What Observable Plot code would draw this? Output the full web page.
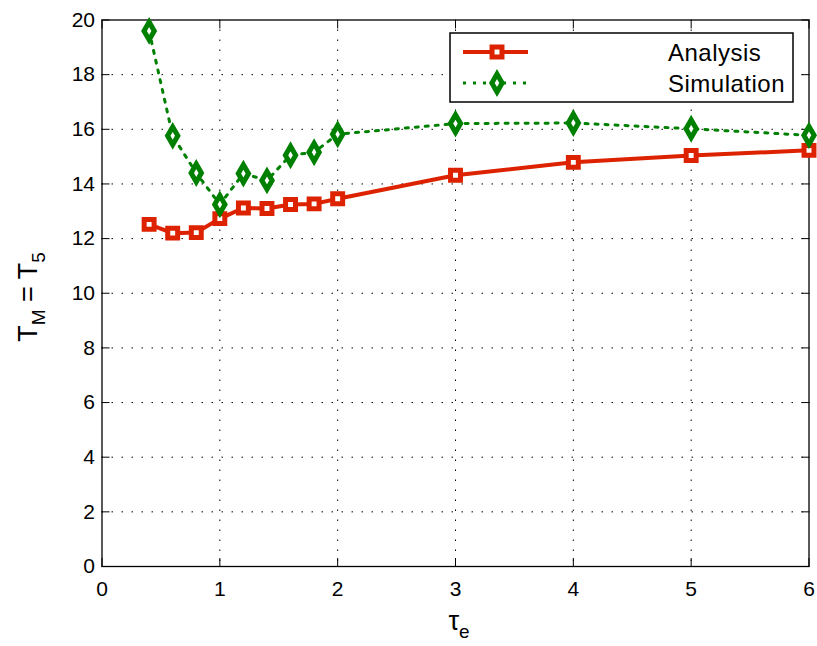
<!DOCTYPE html>
<html>
<head>
<meta charset="utf-8">
<script src="https://cdn.jsdelivr.net/npm/d3@7"></script>
<script src="https://cdn.jsdelivr.net/npm/@observablehq/plot@0.6"></script>
<style>
  html, body { margin: 0; padding: 0; background: white; }
  #chart { width: 817px; height: 646px; }
</style>
</head>
<body>
<div id="chart"></div>
<script>
// ---- data ----
const taus = [0.4, 0.6, 0.8, 1.0, 1.2, 1.4, 1.6, 1.8, 2, 3, 4, 5, 6];
const analysis = [12.52, 12.2, 12.22, 12.73, 13.12, 13.1, 13.25, 13.27, 13.46, 14.32, 14.79, 15.04, 15.23];
const simulation = [19.6, 15.76, 14.4, 13.25, 14.38, 14.13, 15.05, 15.16, 15.82, 16.21, 16.23, 16.02, 15.78];
const xTicks = [0, 1, 2, 3, 4, 5, 6];
const yTicks = [0, 2, 4, 6, 8, 10, 12, 14, 16, 18, 20];
const seriesNames = ["Analysis", "Simulation"];

const red = "#dd2200";
const green = "#008000";
const font = "'Liberation Sans', Arial, Helvetica, sans-serif";

const rows = taus.map((t, i) => ({t, a: analysis[i], s: simulation[i]}));
const gridDash = "1.5,8.5";
const fmt = d3.format("d");

const svg = Plot.plot({
  width: 817,
  height: 646,
  marginLeft: 101.5,
  marginRight: 8.5,
  marginTop: 19.5,
  marginBottom: 80,
  x: {domain: [0, 6], label: null},
  y: {domain: [0, 20], label: null},
  style: {fontFamily: font, fontSize: "21px", background: "white", color: "black", overflow: "visible"},
  marks: [
    Plot.gridX(xTicks.slice(1, -1), {stroke: "black", strokeOpacity: 1, strokeWidth: 1, strokeDasharray: gridDash}),
    Plot.gridY(yTicks.slice(1, -1), {stroke: "black", strokeOpacity: 1, strokeWidth: 1, strokeDasharray: gridDash}),
    Plot.frame({stroke: "black", strokeWidth: 1.3}),
    // inward ticks on all four sides
    Plot.axisX(xTicks, {anchor: "bottom", tickSize: -8, fill: "none", label: null}),
    Plot.axisX(xTicks, {anchor: "top", tickSize: -8, fill: "none", label: null}),
    Plot.axisY(yTicks, {anchor: "left", tickSize: -8, fill: "none", label: null}),
    Plot.axisY(yTicks, {anchor: "right", tickSize: -8, fill: "none", label: null}),
    // tick labels
    Plot.axisX(xTicks, {anchor: "bottom", tickSize: 0, tickPadding: 15, fontSize: 21, tickFormat: fmt, label: null}),
    Plot.axisY(yTicks, {anchor: "left", tickSize: 0, tickPadding: 7, fontSize: 21, tickFormat: fmt, label: null}),
    // series
    Plot.line(rows, {x: "t", y: "a", stroke: red, strokeWidth: 4}),
    Plot.line(rows, {x: "t", y: "s", stroke: green, strokeWidth: 3, strokeDasharray: "3,7"}),
    Plot.dot(rows, {x: "t", y: "a", symbol: "square", r: 5.6, stroke: red, strokeWidth: 5, fill: "white"}),
    Plot.dot(rows, {x: "t", y: "s", symbol: "diamond", r: 5.4, stroke: green, strokeWidth: 5, fill: "white"})
  ]
});

document.getElementById("chart").appendChild(svg);

const s = d3.select(svg);

// y-axis label: T_M = T_5
const yl = s.append("text")
  .attr("transform", "translate(37,297) rotate(-90)")
  .attr("text-anchor", "middle")
  .attr("font-family", font)
  .attr("font-size", 27)
  .attr("fill", "black");
yl.append("tspan").text("T");
yl.append("tspan").attr("font-size", 19).attr("dy", 8).text("M");
yl.append("tspan").attr("dy", -8).text(" = T");
yl.append("tspan").attr("font-size", 19).attr("dy", 8).text("5");

// x-axis label: tau_e
const xl = s.append("text")
  .attr("x", 459)
  .attr("y", 630)
  .attr("text-anchor", "middle")
  .attr("font-family", font)
  .attr("font-size", 27)
  .attr("fill", "black");
xl.append("tspan").text("τ");
xl.append("tspan").attr("font-size", 19).attr("dy", 8).text("e");

// legend
const lg = s.append("g");
lg.append("rect")
  .attr("x", 450).attr("y", 33).attr("width", 343).attr("height", 69)
  .attr("fill", "white").attr("stroke", "black").attr("stroke-width", 1.5);
const legendRows = [
  {name: seriesNames[0], color: red, y: 52, dash: null, width: 4, sym: d3.symbolSquare, r: 5.6},
  {name: seriesNames[1], color: green, y: 83, dash: "3,7", width: 3, sym: d3.symbolDiamond, r: 5.4}
];
legendRows.forEach(r => {
  lg.append("line")
    .attr("x1", 463).attr("x2", 528).attr("y1", r.y).attr("y2", r.y)
    .attr("stroke", r.color).attr("stroke-width", r.width)
    .attr("stroke-dasharray", r.dash);
  lg.append("path")
    .attr("transform", `translate(497,${r.y})`)
    .attr("d", d3.symbol(r.sym, Math.PI * r.r * r.r)())
    .attr("fill", "white").attr("stroke", r.color).attr("stroke-width", 5);
  lg.append("text")
    .attr("x", 668).attr("y", r.y)
    .attr("text-anchor", "start")
    .attr("dominant-baseline", "central")
    .attr("font-family", font)
    .attr("font-size", 24)
    .attr("letter-spacing", 0.5)
    .attr("fill", "black")
    .text(r.name);
});
</script>
</body>
</html>
